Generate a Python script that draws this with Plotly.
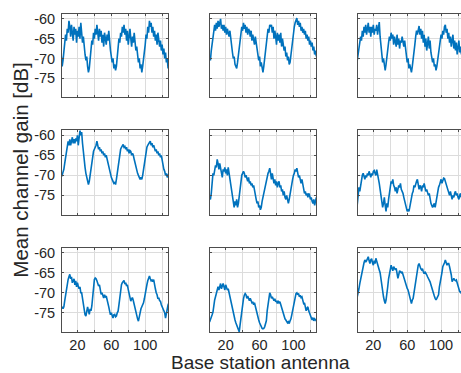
import plotly.graph_objects as go

antenna = list(range(1, 129))

gain_r1c1 = [
    -69.5, -72.0, -70.5, -68.0, -66.5, -64.0, -65.5, -62.5,
    -63.5, -60.5, -62.0, -64.5, -61.5, -63.0, -65.5, -62.0,
    -64.0, -62.5, -66.0, -63.0, -64.5, -62.0, -65.0, -61.0,
    -63.5, -66.0, -64.5, -67.5, -69.0, -70.5, -69.5, -72.0,
    -73.5, -72.5, -70.0, -68.0, -65.5, -66.5, -63.5, -65.0,
    -62.5, -64.0, -61.5, -63.5, -65.5, -62.5, -64.5, -63.0,
    -66.0, -64.0, -67.0, -63.5, -65.0, -66.5, -64.0, -65.5,
    -63.0, -66.5, -68.0, -69.5, -71.0, -70.0, -72.5, -71.5,
    -73.0, -72.0, -69.5, -67.0, -65.0, -66.0, -63.5, -64.5,
    -62.0, -63.5, -61.5, -64.0, -62.5, -65.5, -63.0, -66.5,
    -64.0, -62.5, -65.0, -67.0, -64.5, -66.0, -63.5, -65.5,
    -68.0, -67.0, -69.5, -71.0, -70.0, -72.5, -71.5, -73.5,
    -72.0, -70.5, -68.0, -66.5, -64.0, -65.0, -62.0, -63.5,
    -60.5, -62.0, -61.0, -63.5, -62.0, -64.5, -63.0, -65.5,
    -64.0, -66.5, -63.5, -65.0, -67.0, -65.5, -68.0, -66.5,
    -69.0, -67.5, -70.0, -68.5, -71.0, -70.0, -72.5, -71.5,
]

gain_r1c2 = [
    -69.5, -70.5, -68.0, -66.5, -64.0, -62.5, -61.5, -63.0,
    -61.0, -62.5, -60.5, -62.0, -61.0, -60.0, -62.5, -61.5,
    -63.0, -61.5, -63.5, -62.0, -64.0, -62.5, -63.5, -64.5,
    -63.0, -65.5, -67.5, -68.5, -70.0, -69.5, -71.5, -72.0,
    -72.5, -71.0, -69.0, -67.0, -65.0, -63.5, -62.0, -63.0,
    -61.0, -62.5, -61.5, -63.5, -62.0, -64.0, -62.5, -63.0,
    -64.5, -63.0, -65.5, -64.0, -65.0, -66.5, -64.5, -66.0,
    -67.5, -69.0, -70.5, -69.5, -72.0, -71.0, -73.0, -73.5,
    -72.0, -70.0, -68.0, -66.0, -64.5, -62.5, -63.5, -61.5,
    -62.0, -61.5, -63.5, -62.0, -65.0, -63.0, -64.5, -66.5,
    -63.5, -65.5, -64.0, -66.0, -63.5, -67.0, -65.0, -66.5,
    -68.0, -67.0, -69.5, -68.5, -70.5, -69.5, -71.5, -71.0,
    -69.0, -67.0, -65.0, -63.0, -62.0, -61.0, -60.5, -59.8,
    -61.5, -60.5, -62.0, -61.0, -63.0, -62.0, -63.5, -62.5,
    -64.0, -63.0, -65.0, -64.0, -65.5, -64.5, -66.5, -65.5,
    -67.0, -66.0, -68.0, -67.0, -69.0, -68.0, -69.5, -68.5,
]

gain_r1c3 = [
    -70.5, -69.0, -67.5, -66.0, -64.5, -65.5, -63.0, -64.5,
    -62.0, -63.5, -61.5, -64.0, -62.5, -61.0, -63.5, -62.0,
    -64.5, -62.0, -63.5, -61.5, -64.0, -62.5, -63.0, -61.5,
    -64.0, -62.0, -60.8, -64.5, -67.0, -69.5, -71.0, -70.0,
    -72.5, -73.0, -71.5, -69.0, -68.0, -66.0, -64.5, -65.5,
    -63.5, -65.0, -64.0, -66.5, -64.5, -65.5, -67.0, -64.0,
    -66.5, -65.0, -67.5, -65.5, -66.0, -64.5, -66.5, -67.0,
    -65.5, -68.0, -69.5, -71.0, -70.0, -72.5, -71.5, -73.0,
    -73.5, -72.0, -70.5, -68.5, -66.5, -64.5, -63.0, -64.0,
    -62.5, -61.8, -64.0, -62.5, -65.0, -63.0, -66.0, -64.0,
    -67.0, -65.0, -68.0, -66.0, -64.5, -67.5, -65.5, -68.5,
    -69.5, -71.0, -70.0, -72.0, -71.5, -73.0, -72.0, -70.0,
    -68.5, -67.0, -65.5, -64.0, -65.0, -63.0, -64.0, -62.0,
    -61.5, -63.5, -62.5, -65.0, -63.5, -66.0, -64.5, -67.0,
    -65.0, -64.0, -67.5, -65.5, -68.0, -66.0, -69.0, -67.0,
    -65.5, -68.5, -67.0, -69.0, -66.5, -68.0, -67.5, -69.0,
]

gain_r2c1 = [
    -69.8, -70.0, -69.2, -68.5, -67.0, -65.5, -64.5, -63.0,
    -61.5, -62.5, -61.0, -62.5, -61.5, -60.5, -62.0, -61.0,
    -62.0, -60.8, -61.5, -60.0, -62.5, -59.5, -58.8, -60.0,
    -59.2, -62.0, -64.5, -66.5, -68.0, -69.5, -70.5, -71.5,
    -72.3, -71.5, -70.0, -68.0, -66.5, -65.0, -64.0, -63.5,
    -63.0, -62.5, -61.5, -62.5, -63.5, -63.0, -64.0, -63.5,
    -64.5, -64.0, -65.0, -64.5, -65.5, -65.0, -66.0, -67.0,
    -68.0, -69.0, -69.5, -70.5, -71.0, -71.5, -72.0, -71.8,
    -72.3, -71.0, -69.5, -67.5, -66.0, -64.5, -63.5, -63.0,
    -62.5, -62.3, -63.0, -62.8, -63.5, -63.0, -64.0, -63.5,
    -64.5, -63.8, -64.0, -65.0, -64.5, -65.0, -66.0, -67.0,
    -68.0, -68.5, -69.5, -70.0, -70.5, -71.0, -70.5, -71.0,
    -70.0, -68.5, -67.0, -65.5, -64.0, -63.0, -62.5, -62.0,
    -61.8, -61.5, -62.5, -62.0, -63.0, -62.5, -63.5, -64.0,
    -63.5, -64.5, -64.0, -65.0, -64.5, -65.5, -65.0, -66.5,
    -67.5, -68.5, -69.0, -70.0, -69.5, -70.5, -70.0, -69.5,
]

gain_r2c2 = [
    -75.5, -76.0, -74.5, -72.0, -69.5, -70.0, -68.5, -67.5,
    -68.0, -66.0, -67.0, -68.5, -67.0, -68.0, -69.0, -70.5,
    -68.5, -69.0, -68.0, -69.5, -68.5, -70.0, -68.0, -69.5,
    -70.5, -72.0, -73.5, -75.0, -76.5, -78.0, -76.5, -77.5,
    -76.0, -78.0, -77.0, -75.0, -73.0, -71.5, -70.0, -69.5,
    -69.0, -69.5, -70.5, -70.0, -71.0, -71.5, -70.5, -72.0,
    -71.5, -72.5, -72.0, -73.0, -72.5, -74.0, -75.0, -76.0,
    -77.0, -76.5, -78.0, -77.5, -78.6, -78.0, -76.5, -75.5,
    -74.0, -73.0, -72.0, -71.0, -70.0, -69.5, -69.0, -68.2,
    -69.5, -71.0, -69.5, -70.5, -72.0, -71.0, -72.5, -71.5,
    -73.0, -72.0, -71.5, -73.0, -72.5, -74.0, -73.5, -75.0,
    -74.0, -75.5, -76.0, -75.0, -76.5, -77.0, -76.0, -74.5,
    -73.0, -72.0, -71.0, -70.0, -69.5, -68.5, -69.0, -68.2,
    -69.5, -70.5, -70.0, -71.5, -72.0, -71.0, -72.5, -74.0,
    -74.5, -74.0, -75.0, -74.5, -75.5, -74.5, -75.0, -76.0,
    -75.5, -76.5, -77.0, -76.0, -77.5, -76.5, -75.5, -76.0,
]

gain_r2c3 = [
    -77.3, -75.5, -73.0, -74.0, -72.5, -71.0, -70.0, -69.5,
    -70.5, -71.0, -70.0, -70.5, -69.5, -70.0, -69.0, -70.0,
    -70.5, -69.5, -70.0, -69.0, -68.8, -69.5, -70.0, -68.6,
    -69.5, -71.0, -72.0, -73.5, -75.5, -76.5, -78.0, -77.0,
    -75.5, -77.5, -79.0, -77.0, -78.0, -76.0, -74.0, -72.5,
    -71.5, -72.0, -71.0, -72.5, -73.0, -74.0, -73.0, -74.5,
    -73.5, -72.5, -73.0, -72.0, -73.5, -74.0, -74.5, -75.5,
    -76.5, -77.5, -78.0, -79.0, -78.5, -79.0, -78.0, -76.5,
    -75.0, -74.5, -74.0, -72.5, -73.0, -72.0, -71.5, -71.0,
    -72.0, -73.5, -72.5, -73.0, -74.0, -72.5, -73.0, -72.0,
    -73.0, -74.0, -73.5, -74.5, -75.0, -74.5, -76.0, -77.0,
    -77.5, -78.0, -77.5, -77.0, -78.0, -76.5, -75.0, -74.0,
    -73.0, -72.5, -71.5, -71.0, -72.0, -71.5, -70.7, -70.8,
    -71.5, -72.5, -73.0, -73.5, -74.5, -75.0, -74.0, -75.5,
    -76.0, -75.0, -75.5, -74.5, -74.0, -75.0, -74.5, -75.5,
    -76.0, -75.0, -74.5, -75.5, -76.0, -75.0, -75.5, -76.0,
]

gain_r3c1 = [
    -73.8, -73.5, -74.0, -73.5, -72.0, -70.5, -69.2, -68.0,
    -66.7, -66.0, -65.4, -66.5, -66.0, -67.5, -67.1, -66.5,
    -68.0, -67.0, -68.5, -67.5, -68.3, -69.0, -68.5, -70.0,
    -70.0, -71.5, -73.3, -74.5, -75.5, -75.8, -74.0, -73.5,
    -74.5, -75.4, -74.0, -74.5, -73.3, -71.0, -68.0, -66.7,
    -66.3, -66.5, -67.0, -67.5, -68.3, -68.0, -69.0, -70.4,
    -70.0, -71.0, -71.3, -70.5, -71.0, -70.8, -71.5, -72.5,
    -73.5, -74.6, -75.5, -75.0, -76.0, -76.3, -75.5, -75.4,
    -76.0, -75.8, -75.0, -74.6, -73.0, -71.0, -69.2, -68.0,
    -67.5, -67.0, -66.9, -67.8, -67.5, -68.3, -68.0, -69.2,
    -70.0, -71.0, -72.1, -71.5, -71.2, -72.0, -73.0, -74.2,
    -74.5, -75.8, -76.5, -77.1, -75.5, -75.0, -74.0, -73.5,
    -73.0, -72.5, -71.5, -70.0, -69.0, -68.0, -67.0, -66.0,
    -65.8, -66.5, -67.0, -66.8, -67.2, -66.7, -67.5, -69.0,
    -70.0, -70.5, -71.5, -71.2, -72.0, -72.1, -73.0, -73.5,
    -74.2, -74.5, -75.0, -76.3, -75.0, -74.0, -73.0, -72.5,
]

gain_r3c2 = [
    -77.3, -76.8, -76.0, -75.5, -74.8, -73.0, -71.8, -71.0,
    -70.2, -69.5, -68.5, -69.3, -68.0, -67.7, -69.0, -68.3,
    -67.7, -68.5, -69.3, -68.0, -68.5, -69.3, -69.0, -70.0,
    -71.0, -72.0, -73.1, -74.5, -75.2, -76.0, -76.8, -77.5,
    -78.1, -78.5, -79.3, -79.75, -78.0, -76.0, -74.5, -72.7,
    -71.5, -70.6, -70.2, -70.5, -71.4, -70.8, -71.5, -72.0,
    -71.4, -72.0, -72.5, -72.25, -73.0, -72.5, -73.5, -74.5,
    -75.2, -76.0, -76.8, -77.5, -78.0, -78.5, -78.9, -79.0,
    -78.9, -78.5, -77.7, -77.0, -74.5, -73.0, -71.5, -70.0,
    -70.5, -71.4, -71.0, -71.8, -72.0, -71.5, -72.25, -72.0,
    -72.7, -72.0, -72.5, -72.25, -73.0, -73.5, -74.5, -75.2,
    -76.0, -76.5, -76.8, -77.2, -77.5, -77.25, -77.7, -77.0,
    -76.5, -75.5, -74.5, -73.0, -72.0, -71.0, -70.2, -70.0,
    -70.5, -70.2, -71.0, -70.6, -71.2, -71.0, -72.0, -72.7,
    -72.5, -73.5, -74.5, -73.8, -73.5, -74.5, -75.2, -75.5,
    -76.0, -76.8, -76.2, -77.0, -76.5, -76.8, -77.0, -76.8,
]

gain_r3c3 = [
    -71.0, -70.2, -69.0, -67.7, -66.5, -65.2, -64.0, -63.1,
    -62.5, -61.8, -62.3, -62.0, -61.5, -61.0, -62.0, -62.7,
    -61.8, -61.5, -62.5, -63.1, -62.0, -62.7, -61.4, -62.0,
    -63.0, -63.5, -64.3, -65.0, -66.8, -68.0, -69.3, -71.0,
    -72.0, -72.7, -71.8, -70.5, -68.5, -66.5, -65.0, -63.5,
    -63.1, -63.9, -64.5, -63.5, -64.0, -64.3, -63.9, -65.0,
    -66.4, -65.5, -64.5, -64.75, -65.0, -64.75, -65.5, -66.4,
    -66.8, -67.5, -68.0, -68.9, -69.3, -70.2, -71.0, -72.0,
    -72.7, -71.8, -71.4, -70.0, -68.5, -66.8, -65.2, -63.9,
    -63.1, -62.7, -63.5, -64.0, -64.3, -64.0, -64.75, -65.2,
    -64.75, -65.0, -65.5, -66.0, -66.4, -66.8, -67.25, -68.0,
    -68.9, -69.5, -70.2, -70.8, -71.4, -71.8, -71.4, -71.0,
    -70.5, -68.5, -67.5, -66.0, -65.0, -63.5, -63.1, -62.5,
    -61.8, -62.5, -63.1, -62.7, -62.7, -63.5, -64.3, -65.5,
    -67.25, -66.8, -66.4, -66.8, -67.0, -66.8, -67.5, -68.5,
    -69.3, -69.75, -69.75, -70.2, -69.5, -70.5, -70.0, -70.8,
]

panels = [
    [gain_r1c1, gain_r1c2, gain_r1c3],
    [gain_r2c1, gain_r2c2, gain_r2c3],
    [gain_r3c1, gain_r3c2, gain_r3c3],
]

y_tickvals = [-75, -70, -65, -60]
y_ticktext = ["-75", "-70", "-65", "-60"]
x_tickvals = [20, 40, 60, 80, 100, 120]
x_ticktext = ["20", "", "60", "", "100", ""]

W, H = 461, 373
col_px = [(62, 168), (210, 316), (358, 461)]
col_range = [(1.8, 126.9), (1.5, 126.6), (1.9, 123.5)]
row_px = [(11, 95), (128.3, 213.3), (246.7, 331.7)]
y_range = [-79.8, -58.75]

LINE_COL = "#0072BD"
GRID_COL = "#dcdcdc"
AX_COL = "#4d4d4d"
FONT = "Liberation Sans, Arial, sans-serif"

fig = go.Figure()
k = 0
for r in range(3):
    for c in range(3):
        k += 1
        xa = "x" if k == 1 else f"x{k}"
        ya = "y" if k == 1 else f"y{k}"
        fig.add_trace(go.Scatter(
            x=antenna, y=panels[r][c], mode="lines",
            line=dict(color=LINE_COL, width=1.6),
            xaxis=xa, yaxis=ya, showlegend=False, hoverinfo="skip",
        ))
        x0, x1 = col_px[c]
        y0, y1 = row_px[r]
        xkey = "xaxis" if k == 1 else f"xaxis{k}"
        ykey = "yaxis" if k == 1 else f"yaxis{k}"
        fig.layout[xkey] = dict(
            domain=[x0 / W, x1 / W], anchor=ya, range=list(col_range[c]),
            tickvals=x_tickvals, ticktext=x_ticktext, showticklabels=(r == 2),
            showgrid=True, gridcolor=GRID_COL, gridwidth=1,
            showline=True, linecolor=AX_COL, linewidth=1, mirror="ticks",
            ticks="inside", ticklen=2, tickcolor=AX_COL, zeroline=False,
            tickfont=dict(family=FONT, size=14.5, color="#262626"),
            fixedrange=True,
        )
        fig.layout[ykey] = dict(
            domain=[1 - y1 / H, 1 - y0 / H], anchor=xa, range=y_range,
            tickvals=y_tickvals, ticktext=y_ticktext, showticklabels=(c == 0),
            showgrid=True, gridcolor=GRID_COL, gridwidth=1,
            showline=True, linecolor=AX_COL, linewidth=1,
            mirror=("ticks" if c < 2 else False),
            ticks="inside", ticklen=2, tickcolor=AX_COL, zeroline=False,
            tickfont=dict(family=FONT, size=14.5, color="#262626"),
            ticklabelstandoff=3,
            fixedrange=True,
        )

fig.add_annotation(
    text="Mean channel gain [dB]", xref="paper", yref="paper",
    x=21 / W, y=1 - 169 / H, xanchor="center", yanchor="middle",
    textangle=-90, showarrow=False,
    font=dict(family=FONT, size=20.5, color="#262626"),
)
fig.add_annotation(
    text="Base station antenna", xref="paper", yref="paper",
    x=260 / W, y=1 - 362 / H, xanchor="center", yanchor="middle",
    showarrow=False,
    font=dict(family=FONT, size=19, color="#262626"),
)

fig.update_layout(
    width=W, height=H,
    margin=dict(l=0, r=0, t=0, b=0),
    paper_bgcolor="white", plot_bgcolor="white",
)

fig.write_html(
    "out.html",
    config={"displayModeBar": False},
    post_script="document.body.style.margin='0';document.body.style.overflow='hidden';",
)
